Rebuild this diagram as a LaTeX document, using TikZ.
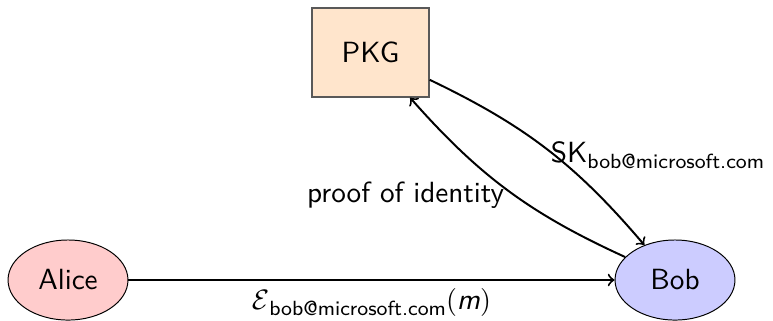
\documentclass[tikz,border=0pt]{standalone}
\usetikzlibrary{shapes.geometric}
\renewcommand{\familydefault}{\sfdefault}
% lowered, small address used as a subscript
\newcommand{\addrsub}{\raisebox{-2.2pt}{\fontsize{7.3}{8}\selectfont bob@microsoft.com}}
\begin{document}
\begin{tikzpicture}[x=0.356pt, y=-0.356pt,
  every node/.style={font=\fontsize{10.4}{12.5}\selectfont},
  party/.style={ellipse, draw=black, line width=0.35pt, inner sep=0pt,
                minimum width=42.7pt, minimum height=28.5pt},
  pkgbox/.style={rectangle, draw=black!65, line width=0.5pt, fill=orange!20,
                 minimum width=41.6pt, minimum height=31.7pt},
  msg/.style={->, line width=0.7pt}]
  \useasboundingbox (0,0) rectangle (773,320);
  \node[party, fill=red!20]  (alice) at (68,280)    {Alice};
  \node[party, fill=blue!20] (bob)   at (675,280)   {Bob};
  \node[pkgbox]              (pkg)   at (370.5,52.5) {PKG};
  \draw[msg] (alice) -- node[anchor=base, yshift=-10.5pt, inner sep=0pt]
    {$\mathcal{E}$\addrsub$($\textit{m}$)$} (bob);
  \draw[msg] (pkg) to[bend left=12]
    node[pos=0.5, anchor=west, inner sep=1pt, yshift=-2pt] {SK\addrsub} (bob);
  \draw[msg] (bob) to[bend left=12]
    node[pos=0.5, anchor=east, inner sep=1pt, yshift=-1.6pt] {proof of identity} (pkg);
\end{tikzpicture}
\end{document}
